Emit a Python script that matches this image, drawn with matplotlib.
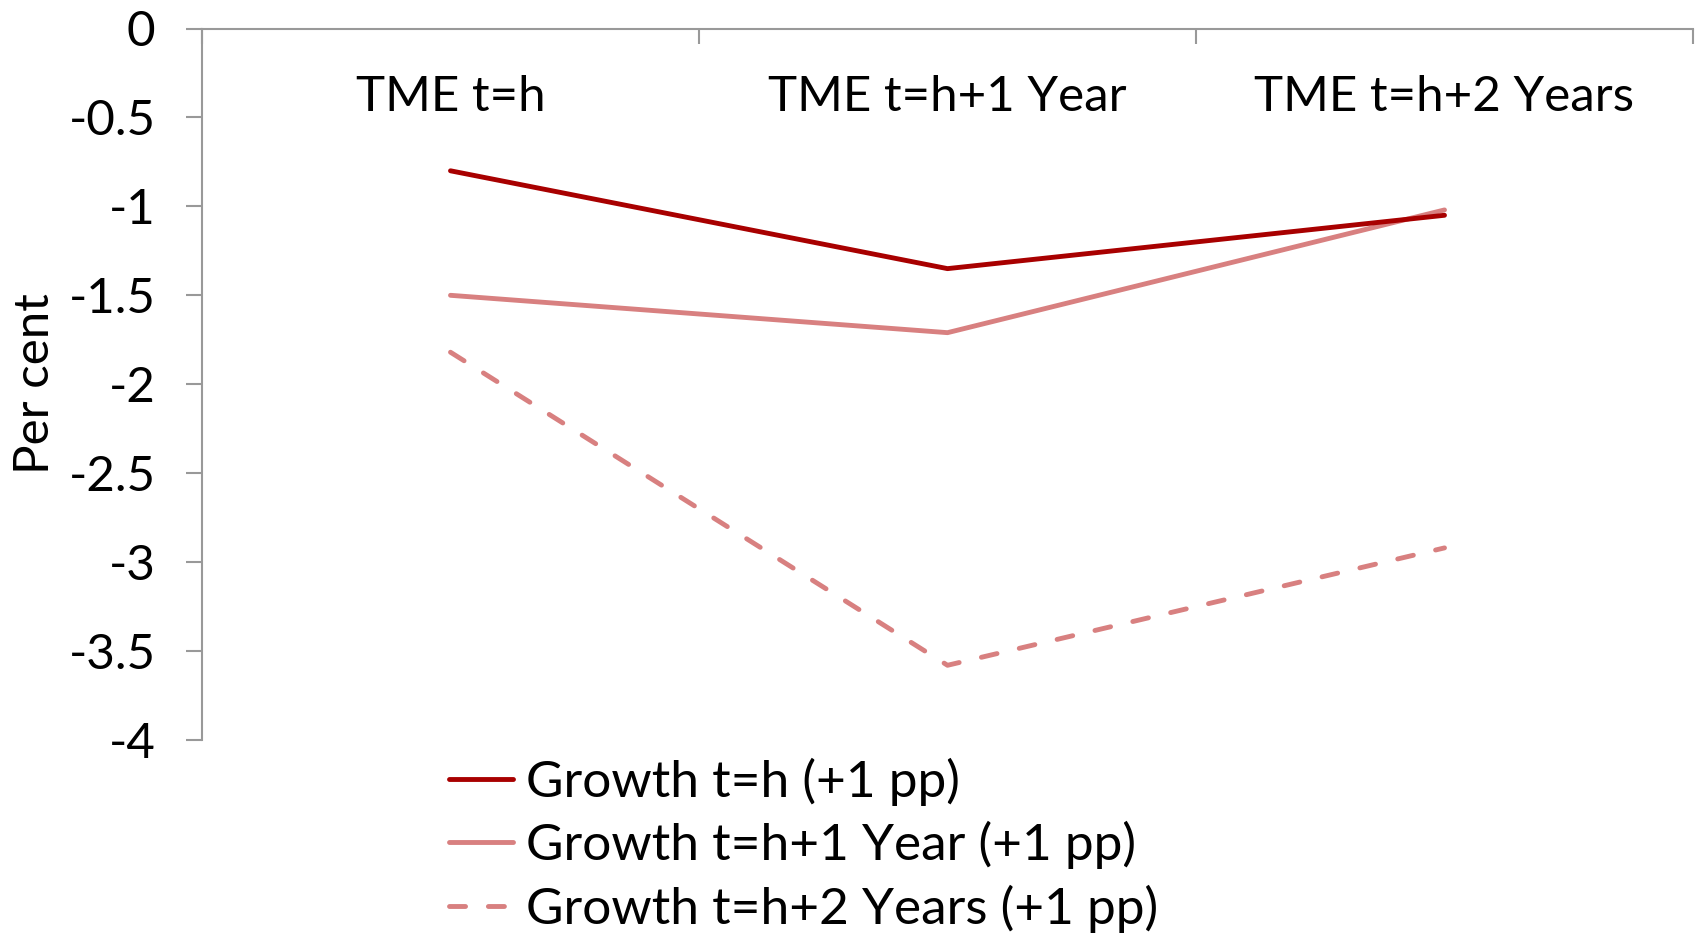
import matplotlib
matplotlib.use("Agg")
import matplotlib.pyplot as plt

categories = ["TME t=h", "TME t=h+1 Year", "TME t=h+2 Years"]
series_names = ["Growth t=h (+1 pp)", "Growth t=h+1 Year (+1 pp)", "Growth t=h+2 Years (+1 pp)"]
growth_h = [-0.80, -1.35, -1.05]
growth_h1 = [-1.50, -1.71, -1.02]
growth_h2 = [-1.82, -3.58, -2.92]
yticks = [0, -0.5, -1, -1.5, -2, -2.5, -3, -3.5, -4]
ytick_labels = ["0", "-0.5", "-1", "-1.5", "-2", "-2.5", "-3", "-3.5", "-4"]

plt.rcParams['font.family'] = ['Lato', 'DejaVu Sans']
FS = 35.5
LFS = 37

fig = plt.figure(figsize=(16.98, 9.36), dpi=100)
ax = fig.add_axes([202/1698, 1-740/936, (1693-202)/1698, (740-28.5)/936])

x = list(range(len(categories)))
dark = "#A80000"
light = "#D88080"
LW = 3.5
l1, = ax.plot(x, growth_h, color=dark, lw=LW, solid_capstyle='round', label=series_names[0], zorder=3)
l2, = ax.plot(x, growth_h1, color=light, lw=LW, solid_capstyle='round', label=series_names[1], zorder=2)
l3, = ax.plot(x, growth_h2, color=light, lw=LW, dash_capstyle='round', label=series_names[2], zorder=2)
l3.set_dashes([3.3, 4.7])

ax.set_xlim(-0.5, len(categories) - 0.5)
ax.set_ylim(-4, 0)

for s in ['right', 'bottom']:
    ax.spines[s].set_visible(False)
for s in ['left', 'top']:
    ax.spines[s].set_color('#999999')
    ax.spines[s].set_linewidth(1.5)

ax.xaxis.set_ticks_position('top')
ax.set_xticks([i - 0.5 for i in range(len(categories) + 1)])
ax.set_xticklabels([])
ax.tick_params(axis='x', direction='in', length=11, width=1.5, color='#999999')

ax.set_yticks(yticks)
ax.set_yticklabels(ytick_labels, fontsize=FS)
ax.tick_params(axis='y', direction='out', length=11.5, width=1.5, color='#999999', pad=22)

for i, c in enumerate(categories):
    ax.text(i, -0.385, c, ha='center', va='center', fontsize=FS)

fig.text(35/1698, 1-384/936, "Per cent", rotation=90, ha='center', va='center', fontsize=FS)

leg = fig.legend(handles=[l1, l2, l3], loc='upper left', bbox_to_anchor=(449/1698, 1-757.5/936),
                 frameon=False, fontsize=LFS, handlelength=1.25, handletextpad=0.25,
                 labelspacing=0.30, borderpad=0, borderaxespad=0)

fig.savefig("out.png", dpi=100)
